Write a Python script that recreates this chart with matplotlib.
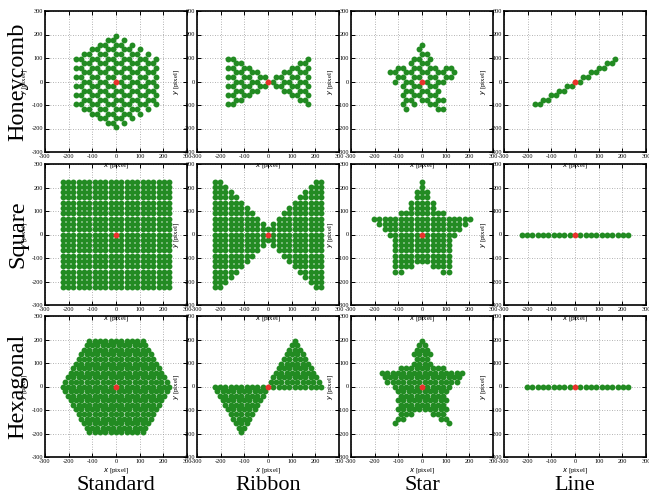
import numpy as np
import matplotlib
matplotlib.use("Agg")
import matplotlib.pyplot as plt
from matplotlib.path import Path

plt.rcParams['font.family'] = ['Liberation Serif', 'DejaVu Serif']
plt.rcParams['axes.unicode_minus'] = False

# lattice constant [pixel], same for all three lattices
BOND = 22.5
ROW = BOND * np.sqrt(3) / 2

lattices = ["Honeycomb", "Square", "Hexagonal"]
shapes = ["Standard", "Ribbon", "Star", "Line"]

# outer size of each shape [pixel]
standard_size = {"Honeycomb": 195.0, "Square": 225.0, "Hexagonal": 225.0}
ribbon_size = {"Honeycomb": 170.0, "Square": 225.0, "Hexagonal": 225.0}
star_outer = {"Honeycomb": 170.0, "Square": 225.0, "Hexagonal": 196.0}
star_inner = {"Honeycomb": 91.0, "Square": 120.0, "Hexagonal": 105.0}
line_range = {"Honeycomb": (-170.0, 170.0), "Square": (-225.0, 225.0),
              "Hexagonal": (-202.5, 225.0)}

ticks = [-300, -200, -100, 0, 100, 200, 300]
green = "#228b22"
red = "#e8322b"


def lattice_sites(kind, extent=320):
    n = int(extent / ROW) + 2
    pts = []
    if kind == "Square":
        m = int(extent / BOND) + 1
        for i in range(-m, m + 1):
            for j in range(-m, m + 1):
                pts.append((i * BOND, j * BOND))
    elif kind == "Hexagonal":
        for k in range(-n, n + 1):
            for m in range(-n - 10, n + 11):
                pts.append((0.5 * BOND * k + BOND * m, ROW * k))
    else:
        # honeycomb: two sites per cell, horizontal bonds
        for k in range(-n, n + 1):
            for m in range(-n, n + 1):
                pts.append((1.5 * BOND * k + 3 * BOND * m, ROW * k))
                pts.append((1.5 * BOND * k + 3 * BOND * m + BOND, ROW * k))
    pts = np.unique(np.round(np.array(pts), 3), axis=0)
    keep = (np.abs(pts[:, 0]) <= extent) & (np.abs(pts[:, 1]) <= extent)
    return pts[keep]


def star_path(R, r):
    ang = np.deg2rad(90 + 36 * np.arange(10))
    rad = np.where(np.arange(10) % 2 == 0, R, r)
    return Path(np.column_stack([rad * np.cos(ang), rad * np.sin(ang)]))


def select(kind, shape, pts):
    x, y = pts[:, 0], pts[:, 1]
    e = 0.5
    if shape == "Standard":
        s = standard_size[kind]
        if kind == "Square":
            return pts[(np.abs(x) <= s + e) & (np.abs(y) <= s + e)]
        if kind == "Honeycomb":
            m = (np.abs(y) + np.abs(x) / np.sqrt(3) <= s + e) & (np.abs(x) <= s * np.sqrt(3) / 2 + e)
            return pts[m]
        m = (np.abs(x) + np.abs(y) / np.sqrt(3) <= s + e) & (np.abs(y) <= s * np.sqrt(3) / 2 + e)
        return pts[m]
    if shape == "Ribbon":
        s = ribbon_size[kind]
        if kind == "Square":
            m = (np.abs(y) <= np.abs(x) + BOND + e) & (np.abs(x) <= s + e) & (np.abs(y) <= s + e)
            return pts[m]
        if kind == "Honeycomb":
            m = (np.abs(x) >= np.sqrt(3) * np.abs(y) - BOND - e) & (np.abs(x) <= s + e)
            m &= np.abs(y) <= s / np.sqrt(3) + e
            return pts[m]
        up = (y >= -e) & (y <= np.sqrt(3) * x + e) & (y <= np.sqrt(3) * (s - x) + e)
        dn = (y <= e) & (-y <= -np.sqrt(3) * x + e) & (-y <= np.sqrt(3) * (s + x) + e)
        return pts[up | dn]
    if shape == "Star":
        path = star_path(star_outer[kind] + 1, star_inner[kind] + 1)
        return pts[path.contains_points(pts)]
    lo, hi = line_range[kind]
    if kind == "Honeycomb":
        # zigzag chain through the centre site
        on = np.isclose(x, 1.5 * BOND * np.round(y / ROW), atol=0.1) | \
             np.isclose(x, 1.5 * BOND * np.round(y / ROW) + BOND, atol=0.1)
        return pts[on & (x >= lo - e) & (x <= hi + e)]
    return pts[np.isclose(y, 0) & (x >= lo - e) & (x <= hi + e)]


fig = plt.figure(figsize=(6.49, 5.0), dpi=100)
W, H = 649.0, 500.0
lefts = [45, 197, 351, 504]
tops = [11, 164, 316]
aw, ah = 142, 141

for r, kind in enumerate(lattices):
    sites = lattice_sites(kind)
    for c, shape in enumerate(shapes):
        ax = fig.add_axes([lefts[c] / W, 1 - (tops[r] + ah) / H, aw / W, ah / H])
        ax.patch.set_alpha(0)
        pts = select(kind, shape, sites)
        centre = np.all(np.isclose(pts, 0), axis=1)
        ax.scatter(pts[~centre, 0], pts[~centre, 1], s=18, c=green, linewidths=0, zorder=3)
        ax.scatter([0], [0], s=18, c=red, linewidths=0, zorder=4)
        ax.set_xlim(-300, 300)
        ax.set_ylim(-300, 300)
        ax.set_xticks(ticks)
        ax.set_yticks(ticks)
        ax.tick_params(direction="in", length=3, width=0.7, labelsize=4.5, pad=1.2,
                       top=True, right=True, colors="black")
        for sp in ax.spines.values():
            sp.set_linewidth(1.2)
        ax.grid(True, color="#9a9a9a", linestyle=(0, (1, 2)), linewidth=0.6)
        ax.set_xlabel("$x$ [pixel]", fontsize=5)
        ax.xaxis.set_label_coords(0.5, -0.065)
        ax.set_ylabel("$y$ [pixel]", fontsize=5)
        ax.yaxis.set_label_coords(-0.115, 0.5)

for r, kind in enumerate(lattices):
    fig.text(18 / W, 1 - (tops[r] + ah / 2) / H, kind, rotation=90, fontsize=17.5,
             ha="center", va="center")
for c, shape in enumerate(shapes):
    fig.text((lefts[c] + aw / 2) / W, 1 - 485 / H, shape, fontsize=16,
             ha="center", va="center")

fig.savefig("out.png", dpi=100)
